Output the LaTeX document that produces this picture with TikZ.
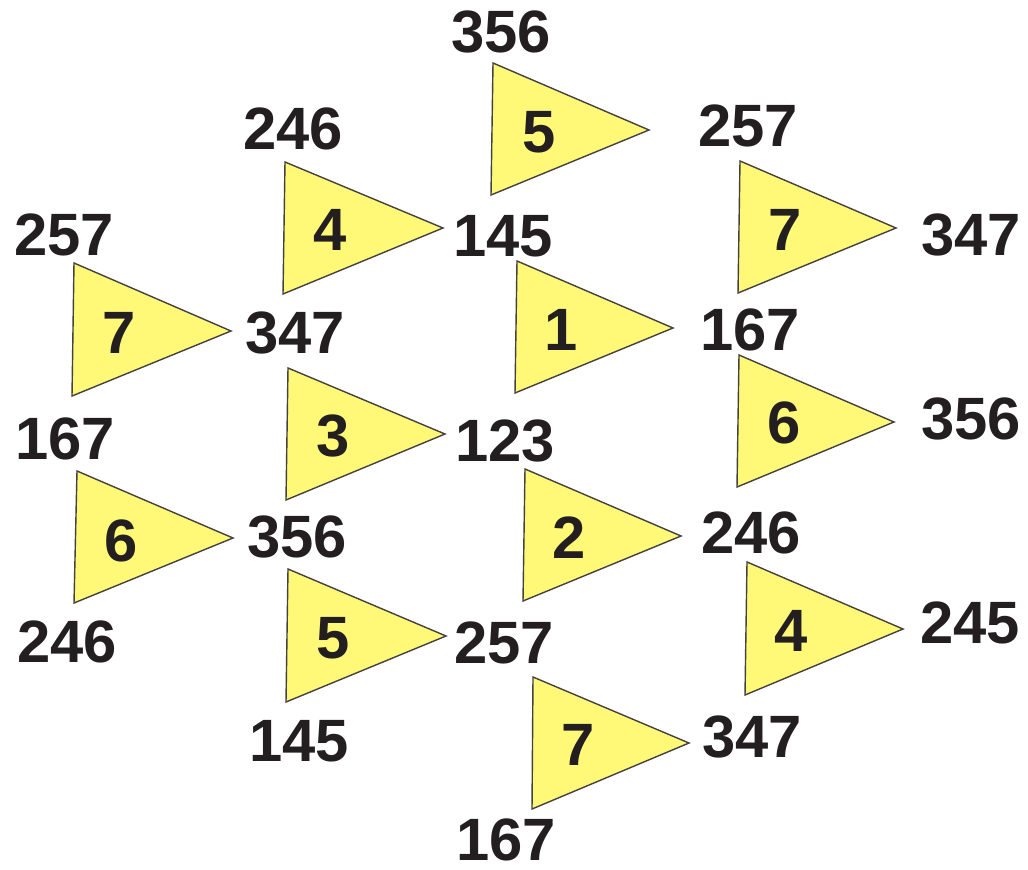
\documentclass[tikz,border=0pt]{standalone}
\usepackage{fontspec}
\setmainfont{Liberation Sans}
\usepackage{xcolor}
\usepackage{tikz}

\definecolor{triyellow}{RGB}{255,249,119}
\definecolor{inkblack}{RGB}{35,31,32}

\tikzset{
  tri/.style={fill=triyellow, draw=inkblack!85, line width=0.4pt, line join=miter},
  num/.style={inner sep=0pt, text=inkblack, font=\fontsize{17}{20}\selectfont\bfseries},
}

\begin{document}
\begin{tikzpicture}
  \useasboundingbox (0,0) rectangle (10.28,-8.69);
  % triangles
  \filldraw[tri] (4.93,-0.63) -- (4.91,-1.95) -- (6.49,-1.30) -- cycle;
  \filldraw[tri] (2.85,-1.62) -- (2.83,-2.94) -- (4.43,-2.28) -- cycle;
  \filldraw[tri] (0.74,-2.63) -- (0.72,-3.96) -- (2.31,-3.31) -- cycle;
  \filldraw[tri] (7.40,-1.61) -- (7.38,-2.93) -- (8.96,-2.28) -- cycle;
  \filldraw[tri] (5.17,-2.61) -- (5.15,-3.93) -- (6.73,-3.28) -- cycle;
  \filldraw[tri] (2.88,-3.68) -- (2.86,-5.00) -- (4.45,-4.34) -- cycle;
  \filldraw[tri] (7.39,-3.55) -- (7.37,-4.87) -- (8.94,-4.22) -- cycle;
  \filldraw[tri] (0.77,-4.71) -- (0.74,-6.03) -- (2.33,-5.38) -- cycle;
  \filldraw[tri] (5.25,-4.69) -- (5.23,-6.01) -- (6.81,-5.36) -- cycle;
  \filldraw[tri] (2.88,-5.69) -- (2.86,-7.02) -- (4.46,-6.36) -- cycle;
  \filldraw[tri] (7.47,-5.62) -- (7.45,-6.95) -- (9.03,-6.29) -- cycle;
  \filldraw[tri] (5.33,-6.77) -- (5.32,-8.09) -- (6.89,-7.43) -- cycle;
  % numbers in the triangles
  \node[num] (d5a) at (5.39,-1.32) {5};
  \node[num] (d4a) at (3.30,-2.30) {4};
  \node[num] (d7a) at (1.19,-3.33) {7};
  \node[num] (d7b) at (7.85,-2.30) {7};
  \node[num] (d1)  at (5.61,-3.30) {1};
  \node[num] (d3)  at (3.33,-4.36) {3};
  \node[num] (d6a) at (7.84,-4.23) {6};
  \node[num] (d6b) at (1.21,-5.41) {6};
  \node[num] (d2)  at (5.69,-5.38) {2};
  \node[num] (d5b) at (3.33,-6.38) {5};
  \node[num] (d4b) at (7.91,-6.31) {4};
  \node[num] (d7c) at (5.78,-7.45) {7};
  % triples at the corners
  \node[num] (l356a) at (5.01,-0.32) {356};
  \node[num] (l246a) at (2.93,-1.29) {246};
  \node[num] (l257a) at (0.64,-2.35) {257};
  \node[num] (l145a) at (5.03,-2.36) {145};
  \node[num] (l347a) at (2.95,-3.33) {347};
  \node[num] (l167a) at (0.65,-4.39) {167};
  \node[num] (l123)  at (5.05,-4.41) {123};
  \node[num] (l356b) at (2.97,-5.37) {356};
  \node[num] (l246b) at (0.67,-6.42) {246};
  \node[num] (l257b) at (5.04,-6.43) {257};
  \node[num] (l145b) at (2.99,-7.41) {145};
  \node[num] (l167b) at (5.06,-8.40) {167};
  \node[num] (l257c) at (7.48,-1.26) {257};
  \node[num] (l347b) at (9.71,-2.35) {347};
  \node[num] (l167c) at (7.50,-3.30) {167};
  \node[num] (l356c) at (9.71,-4.19) {356};
  \node[num] (l246c) at (7.51,-5.33) {246};
  \node[num] (l245)  at (9.70,-6.23) {245};
  \node[num] (l347c) at (7.52,-7.37) {347};
\end{tikzpicture}
\end{document}
